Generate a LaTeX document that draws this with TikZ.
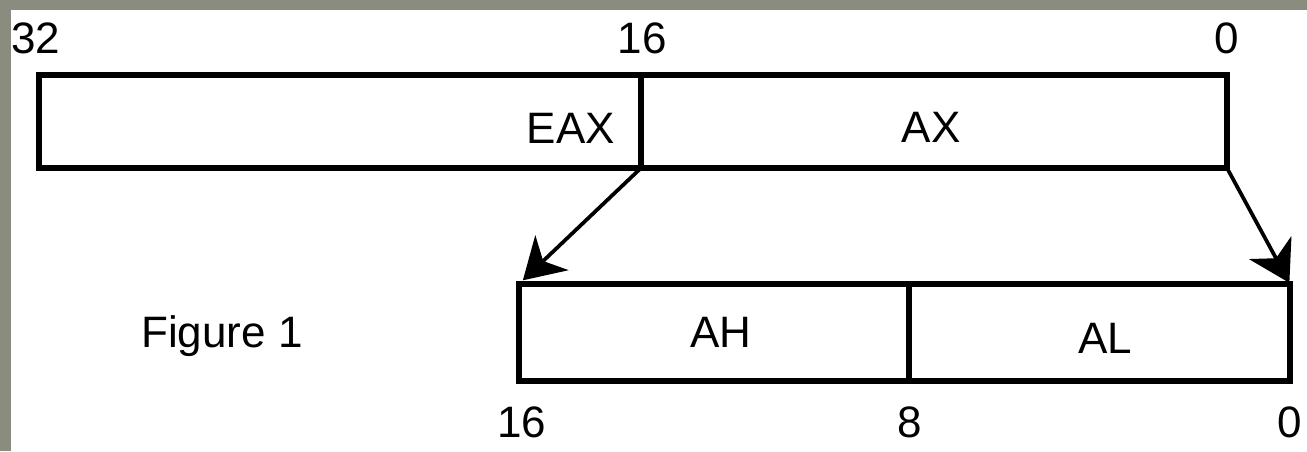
\documentclass[tikz,border=0pt]{standalone}
\usepackage{fontspec}
\setmainfont{Liberation Sans}
\usetikzlibrary{arrows.meta}
\definecolor{frame}{RGB}{138,140,128}
\begin{document}
\begin{tikzpicture}[x=0.75pt,y=-0.75pt,
  regbox/.style={draw=black,line width=4.5pt,line join=miter},
  regline/.style={draw=black,line width=4.5pt},
  zoomarrow/.style={draw=black,line width=2.8pt,
    -{Stealth[length=30pt,width=36pt,inset=9pt]}},
  lbl/.style={inner sep=0pt,anchor=base,font=\fontsize{33}{38}\selectfont}]
  % canvas and frame strips
  \useasboundingbox (0,0) rectangle (1307,451);
  \fill[white] (0,0) rectangle (1307,451);
  \fill[frame] (0,0) rectangle (11,451);
  \fill[frame] (0,0) rectangle (1307,10);

  % 32-bit register EAX with its lower half AX
  \coordinate (eaxNW) at (39,75);
  \coordinate (eaxSE) at (1227,168);
  \coordinate (axNW)  at (641,75);
  \coordinate (axSW)  at (641,168);
  \draw[regbox] (eaxNW) rectangle (eaxSE);
  \draw[regline] (axNW) -- (axSW);

  % 16-bit register AX split into AH and AL
  \coordinate (ahNW) at (519,284);
  \coordinate (alSE) at (1290,381);
  \coordinate (alNE) at (1290,284);
  \coordinate (alNW) at (909,284);
  \coordinate (alSW) at (909,381);
  \draw[regbox] (ahNW) rectangle (alSE);
  \draw[regline] (alNW) -- (alSW);

  % expansion arrows
  \draw[zoomarrow,shorten >=4pt] (axSW) -- (ahNW);
  \draw[zoomarrow,shorten >=1pt] (eaxSE) -- (alNE);

  % bit positions
  \node[lbl] (b32)  at (36,53)   {32};
  \node[lbl] (b16t) at (642,53)  {16};
  \node[lbl] (b0t)  at (1227,53) {0};
  \node[lbl] (b16b) at (522,437) {16};
  \node[lbl] (b8b)  at (910,437) {8};
  \node[lbl] (b0b)  at (1290,437) {0};

  % register names
  \node[lbl] (eax) at (571,143) {EAX};
  \node[lbl] (ax)  at (931,142) {AX};
  \node[lbl] (ah)  at (721,347) {AH};
  \node[lbl] (al)  at (1105,353) {AL};
  \node[lbl] (fig) at (222,347) {Figure 1};
\end{tikzpicture}
\end{document}
